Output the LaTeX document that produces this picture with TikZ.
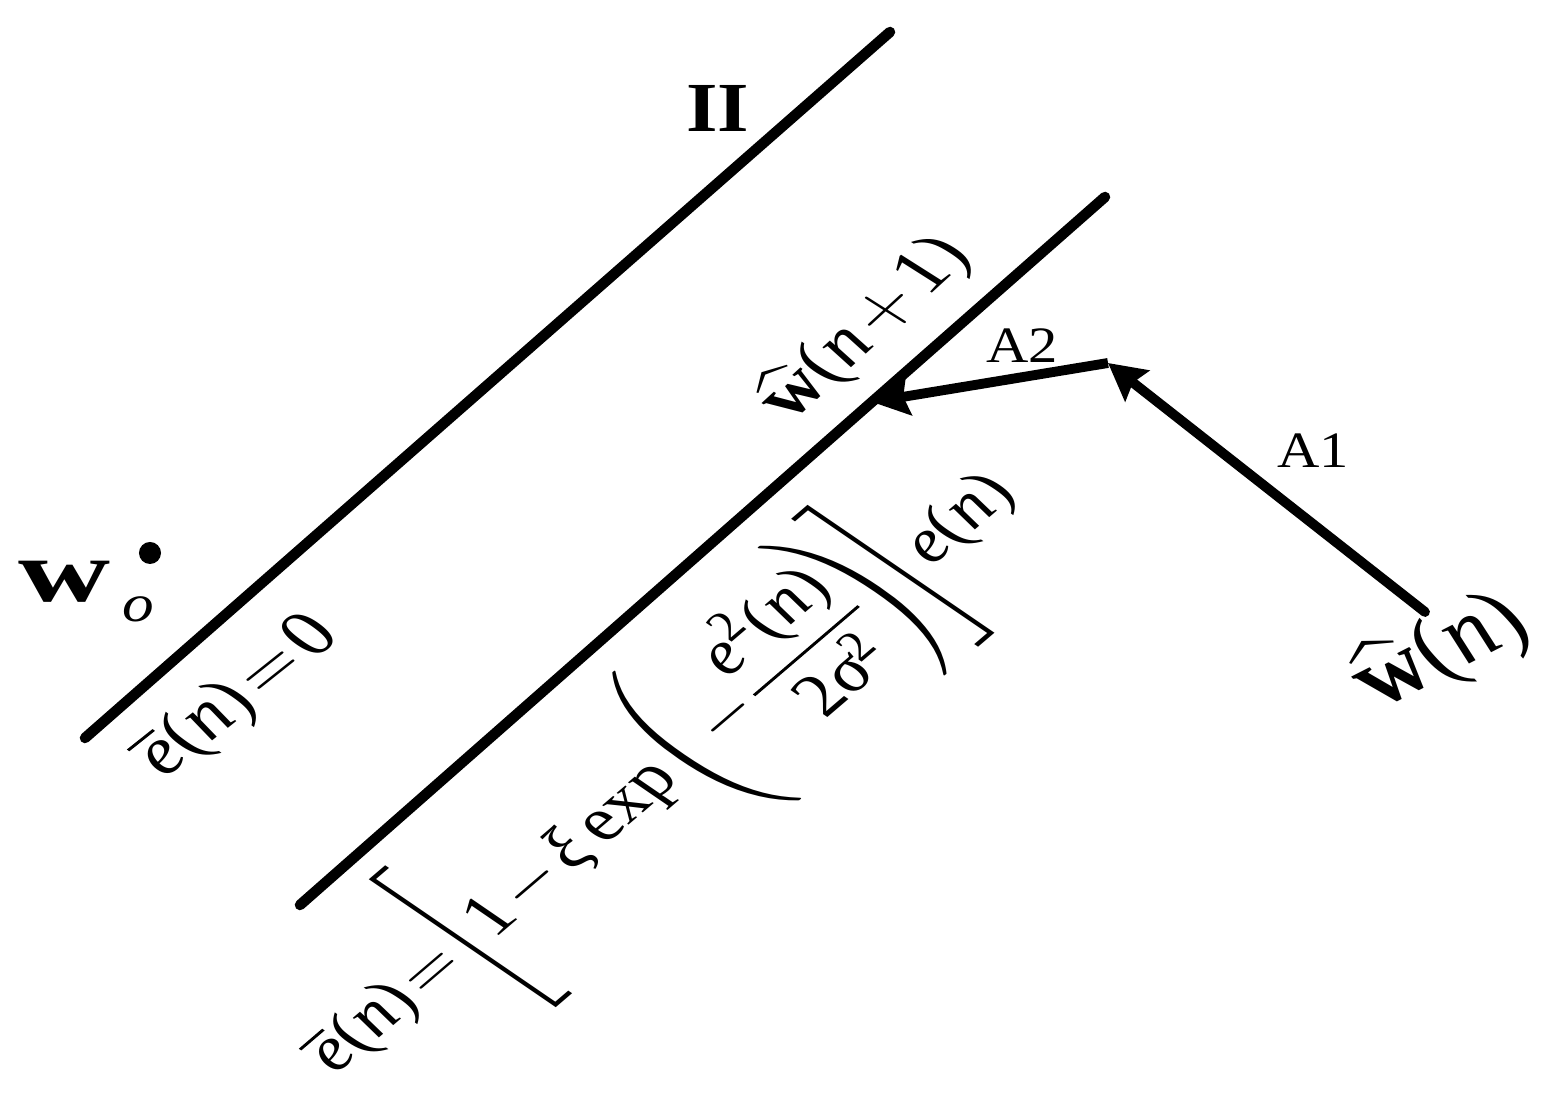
\RequirePackage{fix-cm}
\documentclass[tikz,border=0pt]{standalone}
\usepackage{amsmath}
\usepackage{graphicx}
\usepackage{fontspec}
\setmainfont{Liberation Serif}
\usetikzlibrary{arrows.meta}
\newcommand{\vE}{\textit{e}}
\newcommand{\vN}{\textit{n}}
\newcommand{\hw}{\widehat{\textbf{w}}}
\newcommand{\tallstrut}{\rule[-1.2em]{0pt}{2.9em}}
\tikzset{
  bound/.style={line width=3pt, line cap=round},
  move/.style={line width=2.8pt, -{Stealth[length=10.5pt,width=11pt,inset=1.5pt]}},
  tilted/.style={inner sep=0pt, xslant=-0.27},
  plainlab/.style={inner sep=0pt, xscale=1.15},
}
\begin{document}
\begin{tikzpicture}[x=0.01cm,y=-0.01cm]
\thickmuskip=2mu plus 1mu
\medmuskip=2mu
\nulldelimiterspace=0pt
\useasboundingbox (0,0) rectangle (1547,1095);
% constraint lines
\coordinate (l1a) at (85,738);
\coordinate (l1b) at (890,32);
\coordinate (l2a) at (300,905);
\coordinate (l2b) at (1105,197);
\draw[bound] (l1a) -- (l1b);
\draw[bound] (l2a) -- (l2b);
% points
\coordinate (wn) at (1425,612);
\coordinate (mid) at (1108,363);
\coordinate (wn1) at (872,402);
\draw[move, line cap=round] (wn) -- (mid);
\draw[move] (mid) -- (wn1);
% optimum
\node[circle, fill, inner sep=0pt, minimum size=0.22cm] (wo) at (150,553) {};
\node[anchor=base west, inner sep=0pt] (wolab) at (18,602)
  {\scalebox{1.45}[1]{\fontsize{25}{28}\selectfont\bfseries w}\hspace{0.12cm}\raisebox{-0.2cm}{\scalebox{1.2}[1]{\fontsize{15}{18}\selectfont\itshape o}}};
% labels
\node[plainlab, font=\fontsize{20}{24}\selectfont\bfseries] (two) at (718,108) {II};
\node[plainlab, font=\fontsize{14.5}{17}\selectfont] (a1) at (1313,451) {A1};
\node[plainlab, font=\fontsize{14.5}{17}\selectfont] (a2) at (1022,346) {A2};
\node[rotate=38.5, tilted, font=\fontsize{21}{25}\selectfont] (e0) at (239,697)
  {$\overline{\vE}\text{(}\vN\text{)}=\text{0}$};
\node[rotate=40.5, tilted, font=\fontsize{19.7}{24}\selectfont] (ebar) at (662,774)
  {$\overline{\vE}\text{(}\vN\text{)}=\!\left[\tallstrut\text{1}-\textit{ξ}\,\text{exp}\!\left(\tallstrut\!-\dfrac{\vE^{\text{2}}\text{(}\vN\text{)}}{\text{2}\textit{σ}^{\text{2}}}\!\right)\!\right]\!\vE\text{(}\vN\text{)}$};
\node[rotate=42.5, tilted, font=\fontsize{21}{25}\selectfont] (wn1lab) at (865,328)
  {$\hw\text{(}\vN+\text{1)}$};
\node[rotate=27, tilted, font=\fontsize{26}{30}\selectfont] (wnlab) at (1441,652)
  {$\hw\text{(}\vN\text{)}$};
\end{tikzpicture}
\end{document}
